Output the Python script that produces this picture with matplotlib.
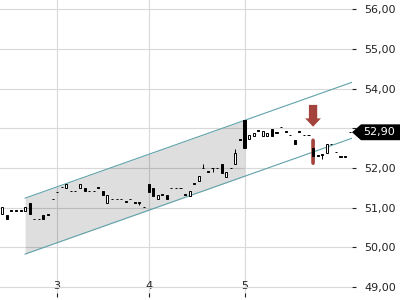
import matplotlib
matplotlib.use("Agg")
import matplotlib.pyplot as plt
import numpy as np
from matplotlib.patches import Polygon, FancyArrow, FancyBboxPatch

# candles (one per index)
opens = [50.84, 50.82, 50.92, 50.92, 50.92, 50.91, 51.11, 50.71, 50.71, 50.82,
         50.82, 51.21, 51.39, 51.51, 51.49, 51.42, 51.42, 51.49, 51.49, 51.42,
         51.42, 51.50, 51.42, 51.11, 51.21, 51.21, 51.21, 51.15, 51.21, 51.12,
         51.12, 51.01, 51.60, 51.49, 51.21, 51.32, 51.32, 51.49, 51.49, 51.49,
         51.32, 51.30, 51.60, 51.68, 51.99, 51.91, 51.99, 51.99, 52.10, 51.78,
         51.99, 52.09, 52.71, 53.21, 52.72, 52.81, 52.94, 52.81, 52.80, 52.98,
         52.89, 53.03, 52.91, 52.83, 52.71, 52.91, 52.83, 52.83, 52.50, 52.31,
         52.33, 52.39, 52.60, 52.40, 52.28, 52.28, 52.90]
highs = [51.01, 50.82, 50.92, 50.92, 50.92, 51.01, 51.11, 50.71, 50.71, 50.82,
         50.82, 51.21, 51.39, 51.51, 51.59, 51.42, 51.42, 51.59, 51.49, 51.42,
         51.42, 51.50, 51.42, 51.32, 51.21, 51.21, 51.21, 51.15, 51.21, 51.12,
         51.12, 51.01, 51.60, 51.49, 51.32, 51.32, 51.32, 51.49, 51.49, 51.49,
         51.32, 51.42, 51.60, 51.80, 52.09, 51.91, 51.99, 51.99, 52.10, 51.91,
         51.99, 52.48, 52.71, 53.21, 52.83, 52.89, 52.94, 52.94, 52.89, 52.98,
         52.89, 53.03, 52.91, 52.83, 52.71, 52.91, 52.83, 52.83, 52.72, 52.31,
         52.33, 52.60, 52.60, 52.40, 52.28, 52.28, 52.90]
lows = [50.84, 50.71, 50.92, 50.92, 50.92, 50.91, 50.83, 50.71, 50.71, 50.71,
        50.82, 51.21, 51.39, 51.51, 51.49, 51.42, 51.42, 51.49, 51.42, 51.42,
        51.42, 51.50, 51.32, 51.11, 51.21, 51.21, 51.21, 51.15, 51.21, 51.12,
        51.07, 51.01, 51.40, 51.30, 51.21, 51.32, 51.21, 51.49, 51.49, 51.49,
        51.32, 51.30, 51.60, 51.68, 51.99, 51.91, 51.91, 51.99, 51.88, 51.78,
        51.99, 52.09, 52.71, 52.50, 52.72, 52.81, 52.94, 52.81, 52.80, 52.81,
        52.89, 53.03, 52.91, 52.83, 52.60, 52.91, 52.83, 52.83, 52.10, 52.31,
        52.22, 52.39, 52.60, 52.40, 52.28, 52.28, 52.90]
closes = [51.01, 50.71, 50.92, 50.92, 50.92, 51.01, 50.83, 50.71, 50.71, 50.71,
          50.82, 51.21, 51.39, 51.51, 51.59, 51.42, 51.42, 51.59, 51.42, 51.42,
          51.42, 51.50, 51.32, 51.32, 51.21, 51.21, 51.21, 51.15, 51.21, 51.12,
          51.12, 51.01, 51.40, 51.30, 51.32, 51.32, 51.21, 51.49, 51.49, 51.49,
          51.32, 51.42, 51.60, 51.80, 51.99, 51.91, 51.99, 51.99, 51.88, 51.91,
          51.99, 52.39, 52.71, 52.50, 52.83, 52.89, 52.94, 52.94, 52.89, 52.81,
          52.89, 53.03, 52.91, 52.83, 52.60, 52.91, 52.83, 52.83, 52.31, 52.31,
          52.33, 52.60, 52.60, 52.40, 52.28, 52.28, 52.90]

day_idx = [12, 32, 53]
day_labels = ['3', '4', '5']
price_ticks = [49, 50, 51, 52, 53, 54, 55, 56]
price_labels = ['49,00', '50,00', '51,00', '52,00', '', '54,00', '55,00', '56,00']

# regression channel
chan_x = [5, 76.52]
chan_upper = [51.24, 54.16]
chan_lower = [49.83, 52.75]
chan_fill_end = 53

signal_idx = 68

fig = plt.figure(figsize=(4, 3), dpi=100)
ax = fig.add_axes([0, 3 / 300, 352 / 400, 297 / 300])

x = np.arange(len(opens))
o = np.array(opens)
c = np.array(closes)

# channel
fx = np.linspace(chan_x[0], chan_fill_end, 50)
fu = np.interp(fx, chan_x, chan_upper)
fl = np.interp(fx, chan_x, chan_lower)
ax.fill_between(fx, fl, fu, color='black', alpha=0.13, lw=0, zorder=2)
ax.plot(chan_x, chan_upper, color='#5fa3aa', lw=0.8, zorder=3)
ax.plot(chan_x, chan_lower, color='#5fa3aa', lw=0.8, zorder=3)

# wicks
ax.vlines(x, lows, highs, color='black', lw=0.7, zorder=4)

# signal highlight
red = '#a3433b'
hl = FancyBboxPatch((signal_idx - 0.3, lows[signal_idx]), 0.6,
                    highs[signal_idx] - lows[signal_idx],
                    boxstyle='round,pad=0.1,rounding_size=0.3',
                    mutation_aspect=0.2, fc=red, ec='none', zorder=5)
ax.add_patch(hl)

# bodies
up = c > o
bottom = np.minimum(o, c)
height = np.maximum(np.abs(c - o), 0.012)
face = ['white' if u else 'black' for u in up]
ax.bar(x, height, bottom=bottom, width=0.45, color=face, edgecolor='black',
       linewidth=0.7, zorder=6)

# arrow above signal candle
ax.add_patch(FancyArrow(signal_idx, 53.59, 0, -0.55, width=1.82, head_width=3.44,
                        head_length=0.21, length_includes_head=True,
                        color=red, lw=0, zorder=7))

ax.set_xlim(-0.5, 76.52)
ax.set_ylim(48.748, 56.234)

for s in ax.spines.values():
    s.set_visible(False)
ax.grid(True, color='#d9d9d9', lw=0.8)
ax.set_axisbelow(True)

ax.yaxis.tick_right()
ax.set_yticks(price_ticks)
ax.set_yticklabels(price_labels)
ax.tick_params(axis='y', direction='out', length=3, width=0.8, pad=6,
               labelsize=8, colors='#222222')
ax.set_xticks(day_idx)
ax.set_xticklabels(day_labels)
ax.tick_params(axis='x', direction='in', length=3, width=0.8, pad=-11.5,
               labelsize=8, colors='#222222')

# current price tag
last = closes[-1]
tr = ax.get_yaxis_transform()
h = 0.2
tag = Polygon([(1.0, last), (1 + 9 / 352, last + h), (1 + 50 / 352, last + h),
               (1 + 50 / 352, last - h), (1 + 9 / 352, last - h)],
              closed=True, transform=tr, fc='black', ec='none', clip_on=False, zorder=10)
ax.add_patch(tag)
ax.text(1 + 11 / 352, last, f'{last:.2f}'.replace('.', ','), transform=tr,
        color='white', fontsize=8, va='center', ha='left', zorder=11, clip_on=False)

fig.savefig('out.png', dpi=100)
